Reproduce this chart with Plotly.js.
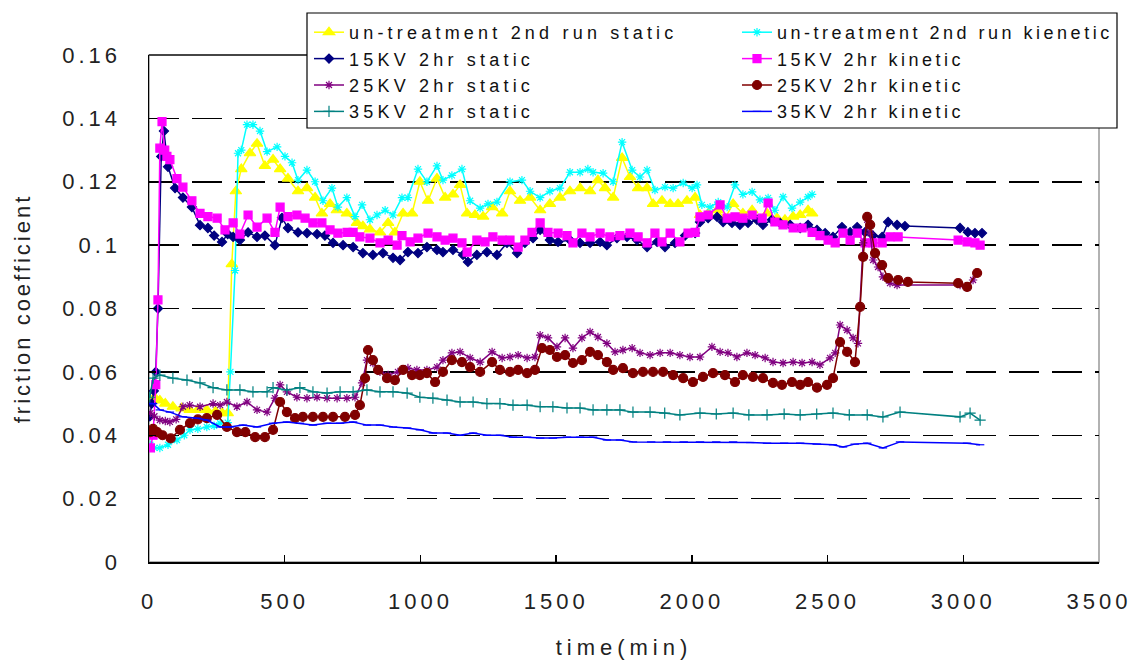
<!DOCTYPE html>
<html>
<head>
<meta charset="utf-8">
<script src="https://cdn.plot.ly/plotly-3.0.1.min.js"></script>
<style>
body{margin:0;background:#fff;}
text.legendtext{letter-spacing:4.2px;}
text.legend2text{letter-spacing:3.5px;}
.xtick text,.ytick text{letter-spacing:4px;}
text.xtitle{letter-spacing:5px;}
text.ytitle{letter-spacing:3px;}
</style>
</head>
<body>
<div id="chart" style="width:1133px;height:664px;"></div>
<script>
// ---------- data (time in min, friction coefficient) ----------
const seriesNames = [
  "un-treatment 2nd run static", "un-treatment 2nd run kienetic",
  "15KV 2hr static", "15KV 2hr kinetic",
  "25KV 2hr static", "25KV 2hr kinetic",
  "35KV 2hr static", "35KV 2hr kinetic"
];

const untreatStaticT = [5,20,40,60,88,120,150,180,213,245,270,290,305,320,340,372,398,427,457,483,512,549,582,612,637,667,692,729,766,788,814,851,881,906,936,969,998,1028,1061,1091,1120,1146,1172,1201,1231,1264,1301,1330,1367,1404,1441,1477,1514,1551,1588,1625,1654,1680,1710,1743,1772,1802,1835,1857,1890,1920,1949,1982,2012,2030,2060,2093,2122,2152,2188,2222,2251,2277,2314,2343,2373,2399,2428,2443];
const untreatStaticV = [0.050,0.052,0.051,0.050,0.049,0.0485,0.048,0.048,0.048,0.0475,0.047,0.047,0.094,0.117,0.124,0.129,0.132,0.125,0.127,0.124,0.121,0.117,0.118,0.115,0.110,0.113,0.111,0.110,0.107,0.106,0.105,0.104,0.107,0.104,0.110,0.110,0.120,0.114,0.121,0.115,0.116,0.119,0.110,0.1095,0.109,0.112,0.110,0.117,0.114,0.115,0.111,0.113,0.115,0.117,0.118,0.117,0.1205,0.118,0.115,0.1275,0.1215,0.118,0.118,0.113,0.114,0.113,0.113,0.114,0.115,0.1095,0.110,0.111,0.1085,0.113,0.110,0.111,0.108,0.110,0.1085,0.108,0.109,0.1095,0.111,0.110];

const untreatKineticT = [5,20,40,70,103,130,151,180,213,240,262,290,300,317,328,340,361,383,409,435,472,501,527,549,582,612,641,674,696,729,759,785,814,840,870,899,932,954,991,1024,1061,1083,1116,1153,1183,1220,1249,1282,1330,1374,1404,1441,1477,1514,1551,1588,1617,1636,1673,1710,1743,1780,1809,1835,1864,1901,1931,1968,2001,2019,2037,2067,2097,2130,2159,2188,2222,2251,2281,2306,2336,2369,2399,2428,2443];
const untreatKineticV = [0.037,0.036,0.036,0.037,0.0385,0.040,0.0417,0.042,0.0426,0.043,0.0438,0.044,0.060,0.092,0.129,0.130,0.138,0.138,0.136,0.1295,0.131,0.128,0.126,0.1205,0.1237,0.120,0.114,0.118,0.112,0.115,0.109,0.1127,0.108,0.1095,0.111,0.1095,0.115,0.115,0.124,0.120,0.125,0.1205,0.122,0.124,0.114,0.1117,0.113,0.1136,0.120,0.1205,0.117,0.115,0.117,0.118,0.123,0.123,0.124,0.123,0.1227,0.120,0.1325,0.1237,0.1215,0.1237,0.1174,0.1183,0.118,0.1196,0.118,0.119,0.1127,0.112,0.1136,0.112,0.119,0.116,0.1168,0.1143,0.1149,0.111,0.1152,0.1117,0.1136,0.1152,0.116];

const kv15StaticT = [3,10,18,25,33,45,55,70,96,125,158,188,217,240,269,290,310,335,365,398,427,464,490,512,549,582,619,648,678,715,752,788,825,862,899,925,954,991,1024,1061,1083,1120,1157,1175,1208,1245,1282,1319,1356,1385,1415,1441,1477,1507,1551,1588,1625,1662,1687,1724,1761,1798,1835,1872,1901,1938,1975,2012,2030,2060,2093,2115,2148,2177,2207,2240,2262,2295,2325,2362,2399,2428,2461,2491,2520,2553,2583,2609,2638,2667,2701,2723,2756,2785,2988,3017,3043,3069];
const kv15StaticV = [0.046,0.050,0.054,0.060,0.080,0.128,0.136,0.1247,0.118,0.115,0.112,0.1063,0.1054,0.103,0.101,0.1035,0.1026,0.1016,0.104,0.1026,0.103,0.100,0.1086,0.1054,0.104,0.1038,0.1035,0.103,0.1007,0.100,0.0994,0.0975,0.0969,0.0975,0.096,0.0953,0.0978,0.0975,0.0994,0.0985,0.0978,0.0985,0.0969,0.0947,0.0969,0.0978,0.0969,0.1007,0.0975,0.1007,0.1022,0.1048,0.1016,0.101,0.1016,0.1007,0.1007,0.101,0.100,0.1022,0.1026,0.1016,0.0994,0.101,0.0994,0.1007,0.103,0.1038,0.1073,0.1085,0.1089,0.1073,0.107,0.1064,0.107,0.108,0.1064,0.108,0.107,0.1064,0.1054,0.1064,0.1048,0.1038,0.1026,0.1057,0.1041,0.1057,0.1041,0.103,0.1026,0.1073,0.1064,0.106,0.1054,0.1041,0.1038,0.1038];

const kv15KineticT = [5,15,25,33,40,48,58,66,77,103,125,158,188,217,251,280,310,335,365,398,435,464,483,512,545,575,604,637,667,696,730,752,777,814,851,881,914,932,962,991,1028,1061,1091,1120,1153,1172,1208,1238,1267,1301,1330,1360,1385,1411,1441,1470,1507,1540,1562,1595,1625,1662,1698,1735,1772,1802,1835,1864,1890,1920,1956,1986,2012,2030,2060,2104,2130,2159,2188,2222,2259,2281,2306,2336,2373,2406,2443,2472,2502,2528,2557,2583,2609,2638,2667,2701,2730,2760,2981,3014,3043,3062];
const kv15KineticV = [0.036,0.040,0.056,0.0827,0.1306,0.139,0.130,0.128,0.127,0.121,0.1183,0.114,0.110,0.109,0.1085,0.1048,0.107,0.1035,0.1095,0.1057,0.1085,0.104,0.112,0.109,0.1095,0.1085,0.107,0.107,0.1048,0.1038,0.104,0.104,0.1026,0.1022,0.1007,0.1016,0.100,0.103,0.101,0.1022,0.1038,0.1026,0.1016,0.1022,0.1007,0.0978,0.1016,0.101,0.1026,0.1016,0.1016,0.0994,0.1016,0.104,0.107,0.104,0.1038,0.103,0.1007,0.1038,0.1026,0.1038,0.1026,0.103,0.1038,0.1026,0.1007,0.1038,0.101,0.1038,0.101,0.1038,0.104,0.1089,0.1095,0.1127,0.1085,0.1089,0.1085,0.1095,0.1085,0.1133,0.1073,0.1064,0.1054,0.1054,0.104,0.103,0.1016,0.1007,0.1038,0.1016,0.1038,0.1007,0.1007,0.1007,0.1026,0.1026,0.1016,0.101,0.1007,0.100];

const kv25StaticT = [5,20,40,60,77,100,125,150,188,236,262,287,324,361,398,435,464,483,508,545,582,619,656,693,729,759,785,803,825,851,881,917,954,987,1024,1061,1083,1116,1146,1183,1220,1264,1301,1330,1360,1393,1422,1441,1470,1503,1533,1562,1595,1625,1654,1687,1717,1746,1780,1809,1846,1883,1920,1956,1993,2030,2074,2104,2133,2166,2203,2233,2270,2299,2336,2373,2406,2443,2472,2509,2528,2546,2572,2594,2612,2631,2646,2657,2668,2686,2704,2730,2756,2988,3014,3036];
const kv25StaticV = [0.047,0.046,0.0448,0.0445,0.0442,0.045,0.049,0.0495,0.049,0.050,0.0495,0.0505,0.049,0.0505,0.048,0.0473,0.0517,0.0559,0.0537,0.052,0.0517,0.052,0.0517,0.0517,0.0517,0.052,0.0565,0.0637,0.0628,0.060,0.059,0.060,0.0612,0.0606,0.0606,0.0615,0.0637,0.066,0.0663,0.0644,0.0631,0.0663,0.0644,0.0647,0.0653,0.0644,0.0647,0.0716,0.0707,0.0679,0.0707,0.0675,0.0707,0.0726,0.071,0.069,0.0663,0.0669,0.0675,0.066,0.0653,0.066,0.066,0.0653,0.0647,0.0647,0.0679,0.0663,0.066,0.0647,0.066,0.0653,0.0644,0.0631,0.0628,0.0631,0.0628,0.0631,0.0622,0.0644,0.066,0.0748,0.0732,0.0707,0.069,0.1007,0.108,0.1038,0.0953,0.0931,0.090,0.088,0.0874,0.0874,0.0865,0.089];

const kv25KineticT = [5,15,30,50,80,114,151,180,213,251,287,324,355,391,427,457,483,508,538,567,604,641,678,722,759,777,796,807,825,844,877,906,936,969,998,1024,1054,1083,1116,1153,1183,1220,1264,1293,1330,1360,1393,1422,1448,1477,1503,1533,1562,1595,1625,1654,1687,1710,1746,1783,1820,1857,1894,1931,1968,2004,2041,2078,2122,2159,2188,2225,2262,2299,2332,2369,2399,2428,2461,2498,2520,2546,2572,2601,2620,2631,2646,2657,2675,2701,2723,2760,2796,2981,3014,3051];
const kv25KineticV = [0.041,0.042,0.041,0.040,0.039,0.0417,0.0438,0.045,0.0454,0.0464,0.0426,0.041,0.041,0.0394,0.0394,0.0417,0.0505,0.0473,0.0454,0.0458,0.0458,0.0458,0.0458,0.0458,0.0464,0.0495,0.058,0.0669,0.0637,0.0606,0.058,0.0574,0.0606,0.059,0.059,0.0596,0.0568,0.060,0.0637,0.0631,0.0615,0.060,0.0631,0.0606,0.060,0.0606,0.0596,0.0606,0.0675,0.0669,0.0647,0.0653,0.0628,0.0637,0.0663,0.0653,0.0631,0.0606,0.0612,0.0596,0.060,0.060,0.060,0.059,0.058,0.0568,0.0584,0.0596,0.059,0.0568,0.059,0.0584,0.058,0.0565,0.0559,0.0568,0.0559,0.0568,0.055,0.0559,0.058,0.0694,0.0663,0.0631,0.0805,0.0963,0.1089,0.1064,0.0975,0.0937,0.0896,0.089,0.0884,0.088,0.0868,0.0912];

const kv35StaticT = [3,15,40,88,140,188,236,287,335,383,435,457,508,556,604,656,704,752,803,851,899,951,998,1046,1098,1146,1194,1245,1293,1341,1393,1441,1488,1540,1588,1636,1687,1735,1783,1846,1900,1956,2030,2090,2152,2210,2277,2340,2399,2460,2520,2580,2646,2704,2767,2988,3025,3062];
const kv35StaticV = [0.052,0.058,0.059,0.058,0.0574,0.0565,0.055,0.0543,0.0543,0.0537,0.0537,0.055,0.0543,0.055,0.0537,0.0533,0.0537,0.0537,0.0543,0.0537,0.0537,0.0533,0.052,0.0517,0.0511,0.0505,0.0505,0.050,0.050,0.0495,0.0495,0.049,0.049,0.0486,0.0486,0.048,0.048,0.048,0.0473,0.0473,0.047,0.0464,0.047,0.0467,0.047,0.0464,0.0464,0.0467,0.0464,0.0467,0.047,0.0464,0.0464,0.0458,0.0473,0.0458,0.047,0.0448];

const kv35KineticT = [3,15,40,77,125,177,213,262,298,346,398,457,508,556,604,656,704,752,803,851,899,951,998,1046,1098,1146,1194,1245,1293,1341,1393,1441,1488,1540,1588,1636,1687,1735,1783,1850,1908,1970,2030,2090,2152,2215,2277,2340,2399,2460,2520,2557,2600,2646,2704,2767,3014,3062];
const kv35KineticV = [0.050,0.050,0.048,0.0473,0.0458,0.0454,0.0448,0.0426,0.0426,0.0432,0.0426,0.0438,0.0442,0.0438,0.0432,0.0438,0.0438,0.0442,0.0432,0.0432,0.0426,0.0423,0.0417,0.0407,0.0407,0.040,0.0407,0.040,0.040,0.0394,0.0394,0.0391,0.0391,0.0394,0.0394,0.0394,0.0385,0.0385,0.0379,0.0379,0.0379,0.0379,0.0379,0.0379,0.0379,0.0377,0.0375,0.0375,0.0375,0.0372,0.037,0.0363,0.0372,0.0375,0.036,0.0379,0.0375,0.037];

const yTickVals = [0, 0.02, 0.04, 0.06, 0.08, 0.1, 0.12, 0.14, 0.16];
const yTickText = ["0", "0.02", "0.04", "0.06", "0.08", "0.1", "0.12", "0.14", "0.16"];
const xTickVals = [0, 500, 1000, 1500, 2000, 2500, 3000, 3500];
const xTickText = ["0", "500", "1000", "1500", "2000", "2500", "3000", "3500"];

// ---------- styling ----------
const FONT = "Liberation Sans, Arial, sans-serif";
const styles = [
  {color:"#FFFF00", symbol:"triangle-up", size:10, legend:"legend"},
  {color:"#00FFFF", symbol:"asterisk-open", size:7, legend:"legend2"},
  {color:"#000080", symbol:"diamond", size:7, legend:"legend"},
  {color:"#FF00FF", symbol:"square", size:8, legend:"legend2"},
  {color:"#800080", symbol:"asterisk-open", size:7, legend:"legend"},
  {color:"#800000", symbol:"circle", size:9, legend:"legend2"},
  {color:"#008080", symbol:"cross-thin-open", size:8, legend:"legend"},
  {color:"#0000FF", symbol:"line-ew-open", size:6, legend:"legend2"}
];
const xs = [untreatStaticT, untreatKineticT, kv15StaticT, kv15KineticT, kv25StaticT, kv25KineticT, kv35StaticT, kv35KineticT];
const ys = [untreatStaticV, untreatKineticV, kv15StaticV, kv15KineticV, kv25StaticV, kv25KineticV, kv35StaticV, kv35KineticV];

const traces = seriesNames.map((name, i) => ({
  type: "scatter",
  mode: "lines+markers",
  name: name,
  x: xs[i],
  y: ys[i],
  legend: styles[i].legend,
  line: {color: styles[i].color, width: 1.5},
  marker: {symbol: styles[i].symbol, size: styles[i].size, color: styles[i].color,
           line: {color: styles[i].color, width: 1.2}}
}));

const L = 149, R = 34, T = 55, B = 102;
const W = 1133, H = 664;
const pw = W - L - R, ph = H - T - B;
const px = v => (v - L) / pw;
const py = v => (H - B - v) / ph;

const legendFont = {family: FONT, size: 18, color: "#111"};

const layout = {
  width: W, height: H,
  margin: {l: L, r: R, t: T, b: B, pad: 0, autoexpand: false},
  paper_bgcolor: "#ffffff",
  plot_bgcolor: "#ffffff",
  font: {family: FONT, color: "#222"},
  showlegend: true,
  xaxis: {
    range: [0, 3500], tickmode: "array", tickvals: xTickVals, ticktext: xTickText,
    ticks: "inside", ticklen: 7, tickcolor: "#000", tickwidth: 1.5,
    showline: true, linecolor: "#000", linewidth: 1.5,
    showgrid: false, zeroline: false,
    tickfont: {family: FONT, size: 22, color: "#222"},
    ticklabelstandoff: 19,
    title: {text: "time(min)", font: {family: FONT, size: 22, color: "#222"}, standoff: 26},
    automargin: false
  },
  yaxis: {
    range: [0, 0.16], tickmode: "array", tickvals: yTickVals, ticktext: yTickText,
    ticks: "inside", ticklen: 7, tickcolor: "#000", tickwidth: 1.5,
    showline: true, linecolor: "#000", linewidth: 1.5,
    showgrid: true, gridcolor: "#000", gridwidth: 1.5, griddash: "30px,13px",
    zeroline: false,
    tickfont: {family: FONT, size: 22, color: "#222"},
    ticklabelstandoff: 22,
    title: {text: "friction coefficient", font: {family: FONT, size: 22, color: "#222"}, standoff: 25},
    automargin: false
  },
  legend: {
    x: px(309), y: py(14), xanchor: "left", yanchor: "top",
    bgcolor: "rgba(0,0,0,0)", borderwidth: 0, font: legendFont,
    orientation: "v", itemclick: false, itemdoubleclick: false
  },
  legend2: {
    x: px(737), y: py(14), xanchor: "left", yanchor: "top",
    bgcolor: "rgba(0,0,0,0)", borderwidth: 0, font: legendFont,
    orientation: "v", itemclick: false, itemdoubleclick: false
  },
  shapes: [
    {type: "rect", xref: "paper", yref: "paper", x0: 0, x1: 1, y0: 0, y1: 1,
     line: {color: "#999", width: 1.5}, layer: "below"},
    {type: "line", xref: "paper", yref: "paper", x0: 0, x1: 1, y0: 1, y1: 1,
     line: {color: "#222", width: 1.5}, layer: "below"},
    {type: "rect", xref: "paper", yref: "paper",
     x0: px(307), x1: px(1117), y0: py(128), y1: py(13),
     fillcolor: "#ffffff", line: {color: "#000", width: 1.2}, layer: "above"}
  ]
};

Plotly.newPlot("chart", traces, layout, {staticPlot: true, displayModeBar: false});
</script>
</body>
</html>
